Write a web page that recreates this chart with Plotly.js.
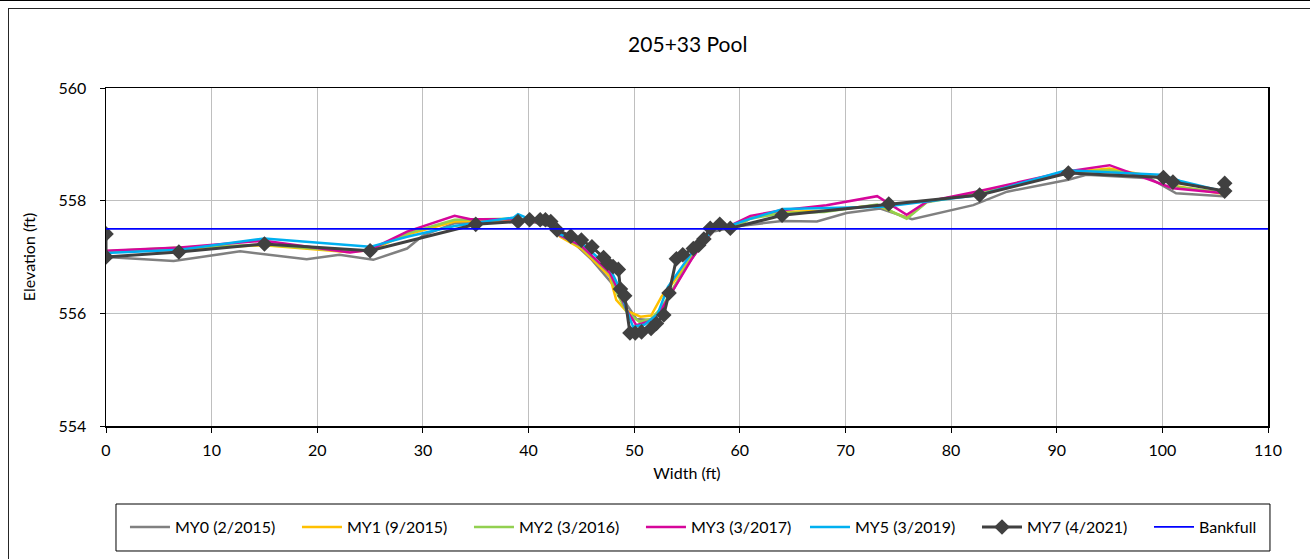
<!DOCTYPE html>
<html>
<head>
<meta charset="utf-8">
<script src="https://cdn.plot.ly/plotly-3.0.1.min.js"></script>
<style>
html,body{margin:0;padding:0;background:#fff;}
#wrap{position:relative;width:1310px;height:559px;overflow:hidden;}
#chart{position:absolute;left:0;top:0;width:1310px;height:559px;}
#frame{position:absolute;left:8px;top:8px;width:1400px;height:600px;border:1px solid #262626;pointer-events:none;}
#topline{position:absolute;left:0;top:0;width:1310px;height:1px;background:#000;pointer-events:none;}
</style>
</head>
<body>
<div id="wrap">
<div id="chart"></div>
<div id="frame"></div>
<div id="topline"></div>
</div>
<script>
// MY0 (2/2015)
const x0 = [0, 6.4, 12.7, 19.0, 22.1, 25.3, 28.5, 30.0, 33.0, 38.5, 40, 42, 44, 46, 48.3, 49.3, 50.2, 51.5, 52.6, 53.5, 55.0, 56.5, 57.5, 60.0, 64.0, 67.3, 70.1, 73.3, 76.3, 82.1, 85.3, 91.1, 92.8, 98.8, 101.3, 105.8];
const y0 = [557.0, 556.93, 557.10, 556.96, 557.04, 556.95, 557.15, 557.38, 557.60, 557.65, 557.64, 557.55, 557.30, 556.95, 556.44, 556.15, 555.90, 555.88, 556.05, 556.35, 556.85, 557.25, 557.45, 557.55, 557.64, 557.63, 557.78, 557.86, 557.67, 557.92, 558.16, 558.37, 558.46, 558.40, 558.13, 558.08];
// MY1 (9/2015)
const x1 = [0, 7, 15, 22.8, 25, 28.5, 33.0, 38.5, 40, 42, 43, 45, 47.7, 48.3, 49.2, 50.6, 51.6, 52.6, 53.7, 55.4, 56.6, 57.6, 60, 61, 64, 68, 73, 75.8, 77.7, 82.7, 91, 95, 100, 101.5, 105.9];
const y1 = [557.09, 557.15, 557.21, 557.09, 557.12, 557.40, 557.63, 557.66, 557.65, 557.60, 557.36, 557.15, 556.65, 556.24, 556.05, 555.94, 555.96, 556.30, 556.55, 557.00, 557.30, 557.50, 557.58, 557.70, 557.80, 557.82, 557.92, 557.69, 557.98, 558.15, 558.50, 558.57, 558.40, 558.25, 558.12];
// MY2 (3/2016)
const x2 = [0, 7, 15, 22.8, 25, 28.5, 33.0, 38.5, 40, 42, 43, 45, 47.7, 48.4, 49.3, 50.5, 51.6, 52.6, 53.7, 55.4, 56.6, 57.6, 60, 61, 64, 68, 73, 75.8, 77.7, 82.7, 91, 95, 100, 101.5, 105.9];
const y2 = [557.10, 557.17, 557.22, 557.10, 557.13, 557.42, 557.66, 557.68, 557.66, 557.60, 557.38, 557.18, 556.70, 556.35, 556.02, 555.85, 555.90, 556.10, 556.45, 556.98, 557.28, 557.50, 557.57, 557.68, 557.78, 557.80, 557.93, 557.68, 557.97, 558.13, 558.50, 558.54, 558.40, 558.24, 558.14];
// MY3 (3/2017)
const x3 = [0, 7, 15, 23.1, 25, 28.5, 33.0, 34.5, 38.6, 40, 42, 43, 45, 47.7, 48.5, 49.3, 50.2, 51.3, 52.3, 53.7, 55.4, 56.6, 57.6, 59, 61, 64, 68.2, 73, 75.8, 77.7, 82.7, 91, 95, 101, 105.9];
const y3 = [557.11, 557.17, 557.29, 557.08, 557.13, 557.45, 557.73, 557.67, 557.67, 557.65, 557.58, 557.38, 557.20, 556.72, 556.40, 556.05, 555.79, 555.85, 555.98, 556.41, 556.95, 557.28, 557.50, 557.55, 557.73, 557.83, 557.92, 558.08, 557.75, 557.98, 558.17, 558.52, 558.63, 558.22, 558.13];
// MY5 (3/2019)
const x5 = [0, 7, 15, 25, 28.5, 33, 38.6, 39, 40, 42, 43, 45, 47.7, 48.6, 49.3, 49.9, 51, 52.2, 53.2, 55.4, 56.6, 57.6, 59, 61, 64.1, 73.6, 82.7, 90.9, 99.8, 101.7, 105.9];
const y5 = [557.07, 557.13, 557.33, 557.18, 557.36, 557.55, 557.70, 557.76, 557.68, 557.60, 557.40, 557.25, 556.80, 556.45, 556.05, 555.76, 555.80, 555.98, 556.47, 557.06, 557.30, 557.50, 557.55, 557.68, 557.85, 557.89, 558.10, 558.54, 558.46, 558.35, 558.16];
// MY7 (4/2021)
const x7 = [0, 0, 6.9, 15.0, 25.0, 35.0, 39.0, 40.1, 41.1, 41.6, 42.1, 42.7, 44.0, 45.0, 46.0, 47.1, 47.5, 48.0, 48.5, 48.7, 49.1, 49.6, 50.1, 50.7, 51.6, 52.1, 52.8, 53.3, 54.0, 54.6, 55.6, 56.1, 56.6, 57.2, 58.1, 59.1, 64.0, 74.1, 82.7, 91.1, 100.1, 101.0, 105.9, 105.9];
const y7 = [557.41, 557.0, 557.09, 557.23, 557.11, 557.58, 557.63, 557.66, 557.66, 557.66, 557.63, 557.48, 557.37, 557.30, 557.18, 556.99, 556.89, 556.83, 556.78, 556.43, 556.31, 555.65, 555.65, 555.67, 555.73, 555.82, 555.97, 556.36, 556.97, 557.04, 557.15, 557.21, 557.32, 557.51, 557.58, 557.51, 557.74, 557.94, 558.10, 558.49, 558.41, 558.33, 558.17, 558.31];
// Bankfull
const xBank = [0, 110];
const yBank = [557.5, 557.5];

const seriesNames = ["MY0 (2/2015)", "MY1 (9/2015)", "MY2 (3/2016)", "MY3 (3/2017)", "MY5 (3/2019)", "MY7 (4/2021)", "Bankfull"];
const xTicks = [0, 10, 20, 30, 40, 50, 60, 70, 80, 90, 100, 110];
const yTicks = [554, 556, 558, 560];

const FONT = "Lato, 'Open Sans', sans-serif";
function lineTrace(x, y, name, color, width, leg) {
  return {x: x, y: y, name: name, type: 'scatter', mode: 'lines', line: {color: color, width: width}, legend: leg};
}
const traces = [
  lineTrace(x0, y0, seriesNames[0], '#808080', 2.5, 'legend'),
  lineTrace(x1, y1, seriesNames[1], '#FFC000', 2.5, 'legend'),
  lineTrace(x2, y2, seriesNames[2], '#92D050', 2.5, 'legend'),
  lineTrace(x3, y3, seriesNames[3], '#D6069A', 2.5, 'legend'),
  lineTrace(x5, y5, seriesNames[4], '#00B0F0', 2.5, 'legend2'),
  {x: x7, y: y7, name: seriesNames[5], type: 'scatter', mode: 'lines+markers', legend: 'legend2',
   line: {color: '#404040', width: 3}, marker: {symbol: 'diamond', size: 12, color: '#404040'}},
  lineTrace(xBank, yBank, seriesNames[6], '#0000FF', 1.8, 'legend2')
];

const legendCommon = {orientation: 'h', xref: 'container', yref: 'container', xanchor: 'left', y: 0.0572, yanchor: 'middle',
  borderwidth: 0, bgcolor: 'rgba(0,0,0,0)', font: {family: FONT, size: 16},
  itemwidth: 40, entrywidth: 117, entrywidthmode: 'pixels', traceorder: 'normal'};

const layout = {
  width: 1310, height: 559,
  margin: {l: 106, r: 42, t: 88, b: 133, autoexpand: false},
  paper_bgcolor: '#fff', plot_bgcolor: '#fff',
  font: {family: FONT, size: 16, color: '#000'},
  title: {text: '205+33 Pool', x: 0.525, xanchor: 'center', y: 0.92, yanchor: 'middle', font: {family: FONT, size: 21, color: '#000'}},
  xaxis: {range: [0, 110], tickvals: xTicks, ticktext: xTicks.map(String), showgrid: true, gridcolor: '#BFBFBF', gridwidth: 1,
    showline: true, linecolor: '#000', linewidth: 1.5, mirror: true, ticks: 'outside', ticklen: 5, tickcolor: '#000',
    zeroline: false, tickfont: {family: FONT, size: 16}, ticklabelstandoff: 4,
    title: {text: 'Width (ft)', font: {family: FONT, size: 16}, standoff: 10}},
  yaxis: {range: [554, 560], tickvals: yTicks, ticktext: yTicks.map(String), showgrid: true, gridcolor: '#BFBFBF', gridwidth: 1,
    showline: true, linecolor: '#000', linewidth: 1.5, mirror: true, ticks: 'outside', ticklen: 5, tickcolor: '#000',
    zeroline: false, tickfont: {family: FONT, size: 16}, ticklabelstandoff: 10,
    title: {text: 'Elevation (ft)', font: {family: FONT, size: 16}, standoff: 19}},
  shapes: [{type: 'rect', xref: 'paper', yref: 'paper', x0: 0.0086, x1: 1.0017, y0: -0.3698, y1: -0.2308,
    line: {color: '#000', width: 1}, fillcolor: 'rgba(0,0,0,0)'}],
  showlegend: true,
  legend: Object.assign({}, legendCommon, {x: 0.0954}),
  legend2: Object.assign({}, legendCommon, {x: 0.6145})
};

Plotly.newPlot('chart', traces, layout, {displayModeBar: false, staticPlot: true});
</script>
</body>
</html>
